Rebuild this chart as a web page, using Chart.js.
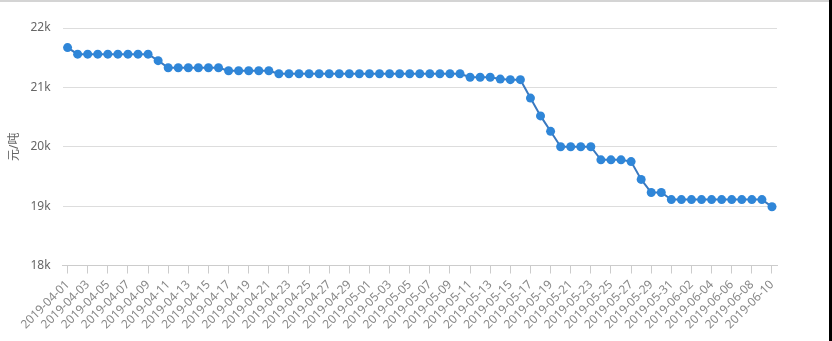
<!DOCTYPE html>
<html>
<head>
<meta charset="utf-8">
<script src="https://cdn.jsdelivr.net/npm/chart.js@4/dist/chart.umd.min.js"></script>
<style>
    html, body { margin: 0; padding: 0; background: #fff; }
    body { width: 832px; height: 341px; overflow: hidden; position: relative; }
    .top-line { position: absolute; left: 0; top: 0; width: 832px; height: 2px; background: #d4d4d4; }
    .right-edge { position: absolute; right: 0; top: 0; width: 3px; height: 341px; background: #000; }
    .wrap { position: absolute; left: 0; top: 0; width: 829px; height: 341px; }
</style>
</head>
<body>
<div class="top-line"></div>
<div class="right-edge"></div>
<div class="wrap"><canvas id="priceChart"></canvas></div>
<script>
// Dates (one point per day)
const dates = [
    '2019-04-01', '2019-04-02', '2019-04-03', '2019-04-04', '2019-04-05', '2019-04-06', '2019-04-07', '2019-04-08',
    '2019-04-09', '2019-04-10', '2019-04-11', '2019-04-12', '2019-04-13', '2019-04-14', '2019-04-15', '2019-04-16',
    '2019-04-17', '2019-04-18', '2019-04-19', '2019-04-20', '2019-04-21', '2019-04-22', '2019-04-23', '2019-04-24',
    '2019-04-25', '2019-04-26', '2019-04-27', '2019-04-28', '2019-04-29', '2019-04-30', '2019-05-01', '2019-05-02',
    '2019-05-03', '2019-05-04', '2019-05-05', '2019-05-06', '2019-05-07', '2019-05-08', '2019-05-09', '2019-05-10',
    '2019-05-11', '2019-05-12', '2019-05-13', '2019-05-14', '2019-05-15', '2019-05-16', '2019-05-17', '2019-05-18',
    '2019-05-19', '2019-05-20', '2019-05-21', '2019-05-22', '2019-05-23', '2019-05-24', '2019-05-25', '2019-05-26',
    '2019-05-27', '2019-05-28', '2019-05-29', '2019-05-30', '2019-05-31', '2019-06-01', '2019-06-02', '2019-06-03',
    '2019-06-04', '2019-06-05', '2019-06-06', '2019-06-07', '2019-06-08', '2019-06-09', '2019-06-10'
];

// Price, 元/吨
const prices = [
    21670,
    21560, 21560, 21560, 21560, 21560, 21560, 21560, 21560,
    21450,
    21330, 21330, 21330, 21330, 21330, 21330,
    21280, 21280, 21280, 21280, 21280,
    21230, 21230, 21230, 21230, 21230, 21230, 21230, 21230, 21230, 21230,
    21230, 21230, 21230, 21230, 21230, 21230, 21230, 21230, 21230,
    21170, 21170, 21170,
    21140,
    21130, 21130,
    20820, 20520, 20260,
    20000, 20000, 20000, 20000,
    19780, 19780, 19780,
    19750, 19450,
    19230, 19230,
    19110, 19110, 19110, 19110, 19110, 19110, 19110, 19110, 19110, 19110,
    18990
];

const yTicks = [18000, 19000, 20000, 21000, 22000];
const yTitle = '元/吨';

const fontFamily = "'Noto Sans', 'Noto Sans CJK SC', sans-serif";

const ctx = document.getElementById('priceChart').getContext('2d');
new Chart(ctx, {
    type: 'line',
    data: {
        labels: dates,
        datasets: [{
            data: prices,
            borderColor: '#3a79c0',
            borderWidth: 2,
            backgroundColor: '#2f86d8',
            pointBackgroundColor: '#2f86d8',
            pointBorderColor: '#2f86d8',
            pointRadius: 4.5,
            pointBorderWidth: 0,
            tension: 0,
            fill: false
        }]
    },
    options: {
        responsive: true,
        maintainAspectRatio: false,
        animation: false,
        layout: {
            padding: { top: 28, right: 52, left: 7, bottom: 5 }
        },
        plugins: {
            legend: { display: false },
            tooltip: { enabled: false }
        },
        scales: {
            x: {
                offset: true,
                // rotated labels may hang into the left margin
                afterFit: function(axis) {
                    axis.paddingLeft = 0;
                    axis.paddingRight = 0;
                },
                grid: {
                    display: true,
                    drawOnChartArea: false,
                    drawTicks: true,
                    tickLength: 8,
                    color: '#cccccc'
                },
                border: { display: true, color: '#cccccc' },
                ticks: {
                    autoSkip: false,
                    maxRotation: 45,
                    minRotation: 45,
                    color: '#888888',
                    padding: 4,
                    font: { family: fontFamily, size: 12 },
                    callback: function(value, index) {
                        return index % 2 === 0 ? dates[index] : null;
                    }
                }
            },
            y: {
                min: yTicks[0],
                max: yTicks[yTicks.length - 1],
                afterBuildTicks: function(axis) {
                    axis.ticks = yTicks.map(v => ({ value: v }));
                },
                grid: {
                    color: '#dddddd',
                    drawTicks: true,
                    tickLength: 3,
                    tickColor: 'rgba(0,0,0,0)'
                },
                border: { display: false },
                ticks: {
                    color: '#666666',
                    padding: 9,
                    font: { family: fontFamily, size: 12 },
                    callback: v => (v / 1000) + 'k'
                },
                title: {
                    display: true,
                    text: yTitle,
                    color: '#666666',
                    padding: 0,
                    font: { family: fontFamily, size: 12 }
                }
            }
        }
    }
});
</script>
</body>
</html>
